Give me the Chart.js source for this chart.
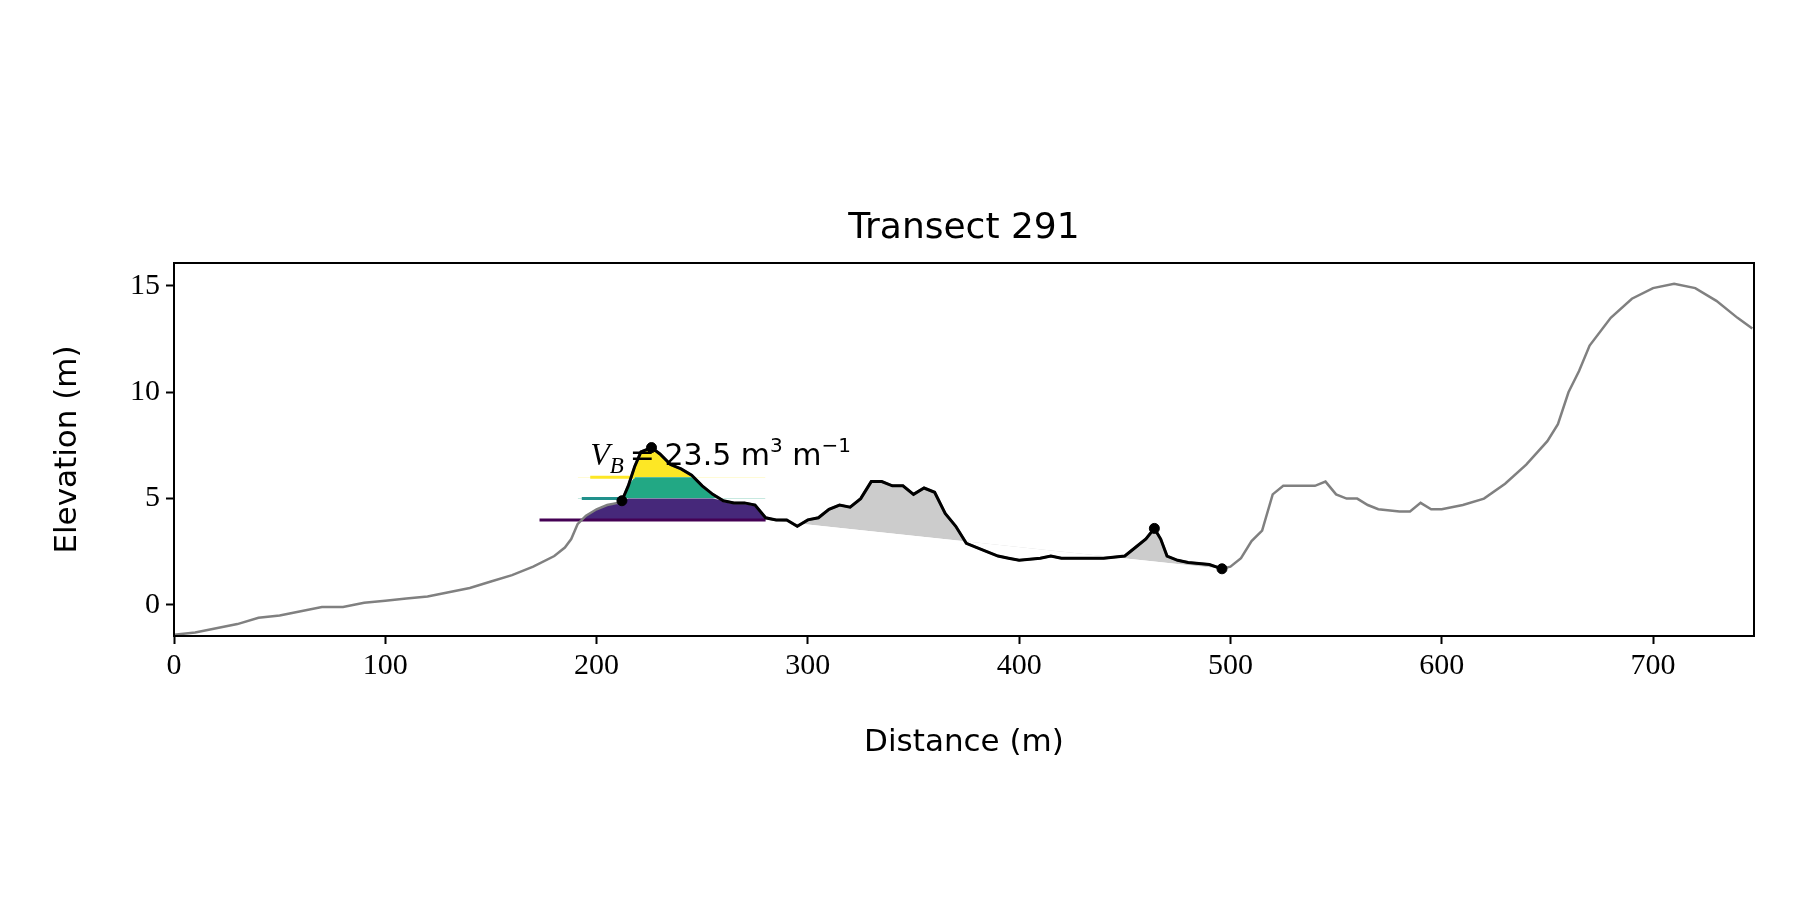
<!DOCTYPE html>
<html>
<head>
<meta charset="utf-8">
<script src="https://cdn.jsdelivr.net/npm/chart.js@4"></script>
<style>
  body { margin: 0; background: #fff; }
  #wrap { width: 1800px; height: 900px; }
</style>
</head>
<body>
<div id="wrap"><canvas id="chart" width="1800" height="900"></canvas></div>
<script>
// profile
const distance = [0, 10, 20, 30, 40, 50, 60, 70, 80, 90, 100, 110, 120, 130, 140, 150, 160, 170, 180, 185, 188, 191, 193, 195, 200, 205, 210, 212, 215, 218, 221, 226, 230, 235, 240, 245, 250, 255, 260, 265, 270, 275, 280, 285, 290, 295, 300, 305, 310, 315, 320, 325, 330, 335, 340, 345, 350, 355, 360, 365, 370, 375, 380, 385, 390, 395, 400, 410, 415, 420, 430, 440, 450, 455, 460, 464, 467, 470, 475, 480, 490, 496, 500, 505, 510, 515, 520, 525, 530, 540, 545, 550, 555, 560, 565, 570, 580, 585, 590, 595, 600, 610, 620, 630, 640, 650, 655, 660, 665, 670, 680, 690, 700, 710, 720, 730, 740, 747];
const elevation = [-1.4, -1.3, -1.1, -0.9, -0.6, -0.5, -0.3, -0.1, -0.1, 0.1, 0.2, 0.3, 0.4, 0.6, 0.8, 1.1, 1.4, 1.8, 2.3, 2.7, 3.1, 3.8, 4.0, 4.2, 4.5, 4.7, 4.8, 4.9, 5.6, 6.5, 7.2, 7.4, 7.1, 6.6, 6.4, 6.1, 5.6, 5.2, 4.9, 4.8, 4.8, 4.7, 4.1, 4.0, 4.0, 3.7, 4.0, 4.1, 4.5, 4.7, 4.6, 5.0, 5.8, 5.8, 5.6, 5.6, 5.2, 5.5, 5.3, 4.3, 3.7, 2.9, 2.7, 2.5, 2.3, 2.2, 2.1, 2.2, 2.3, 2.2, 2.2, 2.2, 2.3, 2.7, 3.1, 3.6, 3.1, 2.3, 2.1, 2.0, 1.9, 1.7, 1.8, 2.2, 3.0, 3.5, 5.2, 5.6, 5.6, 5.6, 5.8, 5.2, 5.0, 5.0, 4.7, 4.5, 4.4, 4.4, 4.8, 4.5, 4.5, 4.7, 5.0, 5.7, 6.6, 7.7, 8.5, 10.0, 11.0, 12.2, 13.5, 14.4, 14.9, 15.1, 14.9, 14.3, 13.5, 13.0];

const duneStart = 212, duneEnd = 496, toeX = 280;
const baseLine = [{x: 280, y: 4.0}, {x: 496, y: 1.7}];
const keyPoints = [{x: 212, y: 4.9}, {x: 226, y: 7.4}, {x: 464, y: 3.6}, {x: 496, y: 1.7}];
const levels = [4, 5, 6];
const levelStart = [173, 193, 197];
const levelEnd = [280, 212, 218];
const levelLine = ['#440154', '#21918c', '#fde725'];
const levelFill = ['#46287a', '#22a884', '#fde725'];
const xTicks = [0, 100, 200, 300, 400, 500, 600, 700];
const yTicks = [0, 5, 10, 15];

const pts = distance.map((x, i) => ({x: x, y: elevation[i]}));
const between = (a, b) => pts.filter(p => p.x >= a && p.x <= b);

const datasets = [];
// gray fill between dune crest and toe line
datasets.push({data: baseLine, borderWidth: 0, pointRadius: 0, order: 10});
datasets.push({data: between(toeX, duneEnd), borderWidth: 0, pointRadius: 0,
  fill: {target: 0, above: '#cccccc', below: 'rgba(0,0,0,0)'}, order: 9});
// coloured bands
levels.forEach((lv, i) => {
  const top = i < levels.length - 1 ? levels[i + 1] : 99;
  datasets.push({
    data: between(190, toeX).map(p => ({x: p.x, y: Math.min(p.y, top)})),
    borderWidth: 0, pointRadius: 0, order: 8,
    fill: {value: lv, above: levelFill[i], below: 'rgba(0,0,0,0)'}
  });
  datasets.push({
    data: [{x: levelStart[i], y: lv}, {x: levelEnd[i], y: lv}],
    borderColor: levelLine[i], borderWidth: 3, pointRadius: 0, order: 5
  });
});
datasets.push({data: pts, borderColor: '#808080', borderWidth: 2.5, pointRadius: 0, order: 4});
datasets.push({data: between(duneStart, duneEnd), borderColor: '#000', borderWidth: 3, pointRadius: 0, order: 3});
datasets.push({data: keyPoints, showLine: false, pointRadius: 5, backgroundColor: '#000', borderColor: '#000', order: 1});

const serif = '"Liberation Serif", serif';
const sans = '"DejaVu Sans", sans-serif';

const textPlugin = {
  id: 'texts',
  afterDraw(chart) {
    const c = chart.ctx, a = chart.chartArea, xs = chart.scales.x, ys = chart.scales.y;
    c.save();
    c.fillStyle = '#000';
    c.font = '36px ' + sans;
    c.textAlign = 'center';
    c.textBaseline = 'bottom';
    c.fillText('Transect 291', (a.left + a.right) / 2, a.top - 16);
    // annotation
    let x = xs.getPixelForValue(197), y = ys.getPixelForValue(6.6);
    c.textAlign = 'left';
    c.textBaseline = 'alphabetic';
    c.font = 'italic 32px ' + serif;
    c.fillText('V', x, y);
    x += c.measureText('V').width;
    c.font = 'italic 23px ' + serif;
    c.fillText('B', x, y + 8);
    x += c.measureText('B').width + 6;
    const parts = [['= 23.5 m', 0, 30], ['3', -13, 20], [' m', 0, 30], ['\u22121', -13, 20]];
    parts.forEach(([t, dy, s]) => {
      c.font = s + 'px ' + sans;
      c.fillText(t, x, y + dy);
      x += c.measureText(t).width;
    });
    c.strokeStyle = '#000';
    c.lineWidth = 2;
    c.strokeRect(a.left, a.top, a.right - a.left, a.bottom - a.top);
    c.restore();
  }
};

new Chart(document.getElementById('chart'), {
  type: 'line',
  data: {datasets: datasets},
  options: {
    responsive: false,
    animation: false,
    layout: {padding: {top: 263, right: 46, bottom: 134, left: 45}},
    plugins: {legend: {display: false}, tooltip: {enabled: false}},
    scales: {
      x: {
        type: 'linear', min: 0, max: 747.8,
        afterFit: s => { s.height = 130; },
        afterBuildTicks: s => { s.ticks = xTicks.map(v => ({value: v})); },
        grid: {display: true, drawOnChartArea: false, drawTicks: true, tickLength: 8, tickColor: '#000', tickWidth: 2},
        border: {color: '#000', width: 2},
        ticks: {color: '#000', font: {family: serif, size: 30}, padding: 4, maxRotation: 0},
        title: {display: true, text: 'Distance (m)', color: '#000', font: {family: sans, size: 31}, padding: {top: 8}}
      },
      y: {
        type: 'linear', min: -1.46, max: 16.08,
        afterFit: s => { s.width = 129; },
        afterBuildTicks: s => { s.ticks = yTicks.map(v => ({value: v})); },
        grid: {display: true, drawOnChartArea: false, tickLength: 8, tickColor: '#000', tickWidth: 2},
        border: {color: '#000', width: 2},
        ticks: {color: '#000', font: {family: serif, size: 30}, padding: 6},
        title: {display: true, text: 'Elevation (m)', color: '#000', font: {family: sans, size: 31}, padding: {bottom: 4}}
      }
    }
  },
  plugins: [textPlugin]
});
</script>
</body>
</html>
